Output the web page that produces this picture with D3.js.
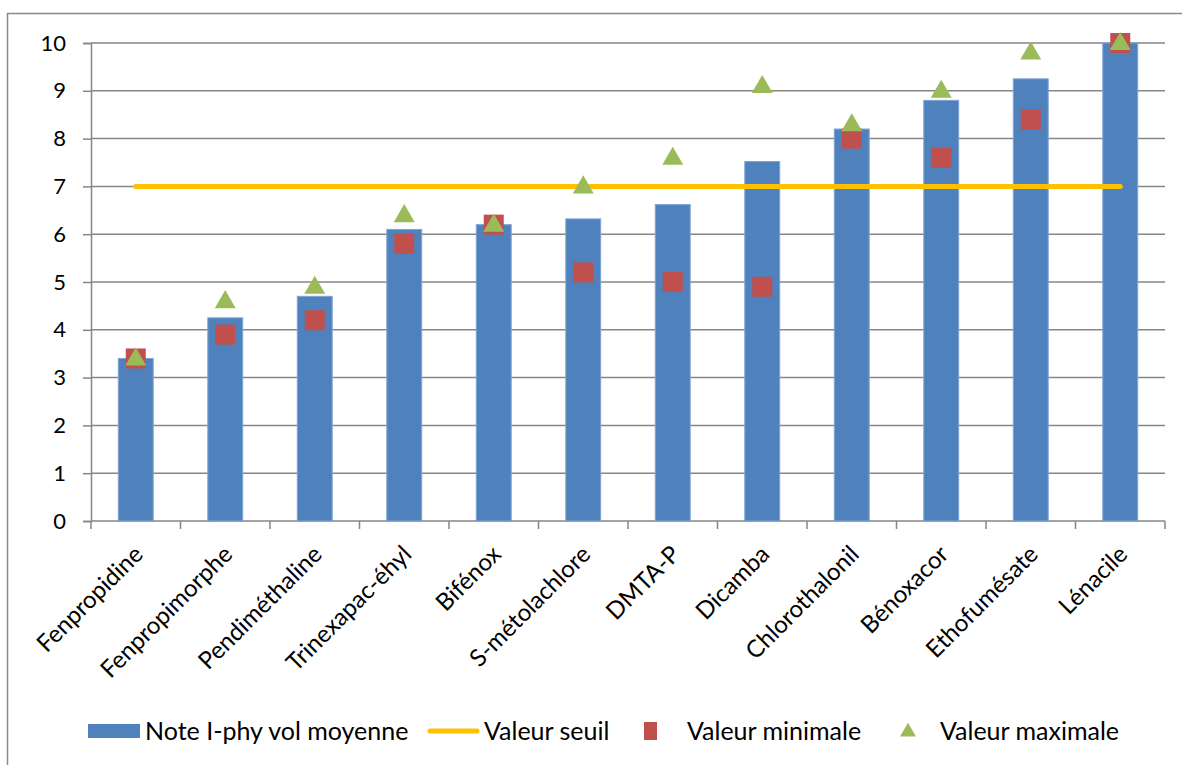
<!DOCTYPE html>
<html><head><meta charset="utf-8">
<script src="https://cdn.jsdelivr.net/npm/d3@7"></script>
<style>body{margin:0;background:#fff}svg text{font-family:Lato,"Open Sans",sans-serif;fill:#000}</style>
</head><body><svg id="c" width="1182" height="765"></svg>
<script>
const categories=["Fenpropidine","Fenpropimorphe","Pendiméthaline","Trinexapac-éhyl","Bifénox","S-métolachlore","DMTA-P","Dicamba","Chlorothalonil","Bénoxacor","Ethofumésate","Lénacile"];
const moyenne=[3.4,4.25,4.7,6.1,6.2,6.32,6.62,7.52,8.2,8.8,9.25,10];
const seuil=[7,7,7,7,7,7,7,7,7,7,7,7];
const minimale=[3.4,3.9,4.2,5.8,6.2,5.2,5.0,4.9,8.0,7.6,8.4,10];
const maximale=[3.4,4.6,4.9,6.4,6.2,7.0,7.6,9.1,8.3,9.0,9.8,10];
const yTicks=[0,1,2,3,4,5,6,7,8,9,10];
const legendLabels=["Note I-phy vol moyenne","Valeur seuil","Valeur minimale","Valeur maximale"];

const svg=d3.select("#c");
const L=91,R=1165,T=43,B=521;
svg.append("rect").attr("x",7.5).attr("y",13.5).attr("width",1300).attr("height",900).attr("fill","none").attr("stroke","#898989").attr("stroke-width",1.5);
const x=d3.scaleBand().domain(categories).range([L,R]).paddingInner(0.61).paddingOuter(0.305);
const xc=d=>x(d)+x.bandwidth()/2;
const y=d3.scaleLinear().domain([0,10]).range([B,T]);
// grid
svg.append("g").selectAll("line").data(yTicks.filter(d=>d>0)).join("line")
 .attr("x1",L).attr("x2",R).attr("y1",d=>y(d)).attr("y2",d=>y(d)).attr("stroke","#868686").attr("stroke-width",1.5);
// y axis
const ya=svg.append("g").attr("transform",`translate(${L},0)`).call(d3.axisLeft(y).tickValues(yTicks).tickSize(8).tickPadding(17));
ya.select(".domain").attr("stroke","#868686").attr("stroke-width",1.5);
ya.selectAll(".tick line").attr("stroke","#868686").attr("stroke-width",1.5);
ya.selectAll(".tick text").style("font-size","22px").style("font-family","Lato");
// x axis
const xb=d3.scaleLinear().domain([0,12]).range([L,R]);
svg.append("line").attr("x1",L).attr("x2",R).attr("y1",B).attr("y2",B).attr("stroke","#868686").attr("stroke-width",1.5);
svg.append("g").selectAll("line").data(d3.range(13)).join("line")
 .attr("x1",d=>xb(d)).attr("x2",d=>xb(d)).attr("y1",B).attr("y2",B+8).attr("stroke","#868686").attr("stroke-width",1.5);
svg.append("g").selectAll("text").data(categories).join("text")
 .attr("transform",d=>`translate(${xc(d)-4},${B+22}) rotate(-45)`)
 .attr("text-anchor","end").attr("dy","0.75em").style("font-size","24px").text(d=>d);
// bars
svg.append("g").selectAll("rect").data(categories).join("rect")
 .attr("x",d=>x(d)).attr("width",x.bandwidth()).attr("y",(d,i)=>y(moyenne[i])).attr("height",(d,i)=>y(0)-y(moyenne[i]))
 .attr("fill","#4F81BD").attr("stroke","#7FA3D3").attr("stroke-width",1);
// threshold
svg.append("path").datum(categories).attr("d",d3.line().x(d=>xc(d)).y((d,i)=>y(seuil[i])))
 .attr("fill","none").attr("stroke","#FFC000").attr("stroke-width",5).attr("stroke-linecap","round");
// min squares
const sq=20;
svg.append("g").selectAll("rect").data(categories).join("rect")
 .attr("x",d=>xc(d)-sq/2).attr("y",(d,i)=>y(minimale[i])-sq/2).attr("width",sq).attr("height",sq).attr("fill","#C0504D");
// max triangles
const tri=d3.symbol().type(d3.symbolTriangle).size(190);
svg.append("g").selectAll("path").data(categories).join("path")
 .attr("d",tri).attr("transform",(d,i)=>`translate(${xc(d)},${y(maximale[i])+1})`).attr("fill","#9BBB59");
// legend
const lg=svg.append("g").style("font-size","25px");
const ly=731;
lg.append("rect").attr("x",88).attr("y",ly-7).attr("width",52).attr("height",14).attr("fill","#4F81BD");
lg.append("text").attr("x",145).attr("y",ly).attr("dy","0.35em").text(legendLabels[0]);
lg.append("line").attr("x1",430).attr("x2",477).attr("y1",ly).attr("y2",ly).attr("stroke","#FFC000").attr("stroke-width",5).attr("stroke-linecap","round");
lg.append("text").attr("x",484).attr("y",ly).attr("dy","0.35em").text(legendLabels[1]);
lg.append("rect").attr("x",644).attr("y",ly-9).attr("width",13).attr("height",18).attr("fill","#C0504D");
lg.append("text").attr("x",687).attr("y",ly).attr("dy","0.35em").text(legendLabels[2]);
lg.append("path").attr("d",d3.symbol().type(d3.symbolTriangle).size(110)).attr("transform",`translate(908,${ly+1})`).attr("fill","#9BBB59");
lg.append("text").attr("x",940).attr("y",ly).attr("dy","0.35em").text(legendLabels[3]);
</script></body></html>
